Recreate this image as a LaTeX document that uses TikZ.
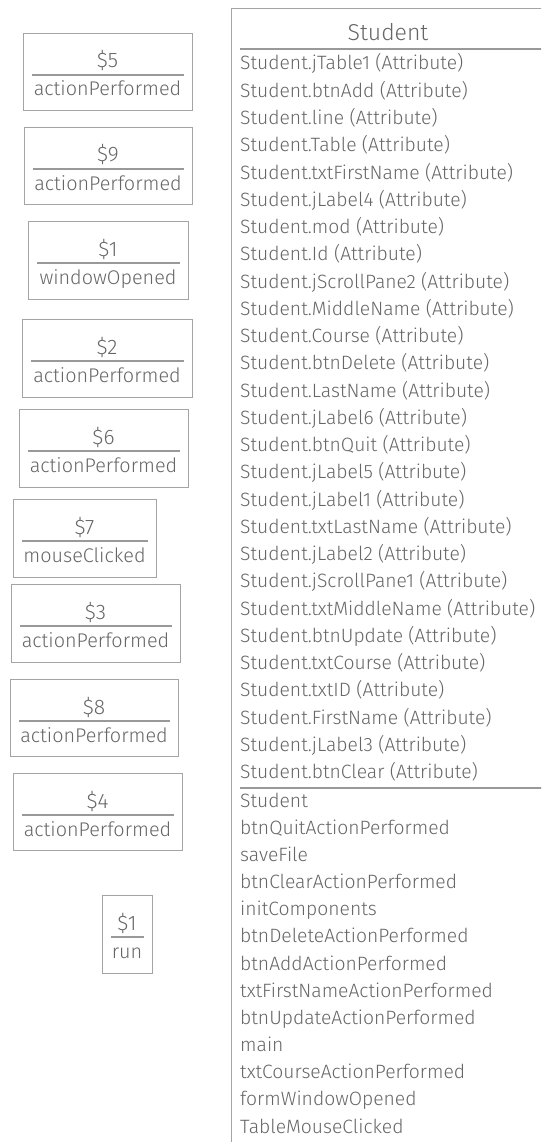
\documentclass[tikz,border=0pt]{standalone}
\usepackage{fontspec}
\setmainfont{Fira Sans Light}
\definecolor{ink}{HTML}{666666}
\definecolor{edge}{HTML}{A4A4A4}
\definecolor{sep}{HTML}{999999}
% one anonymous-class box: name, left, top, right, bottom, title, operation
\newcommand\opbox[7]{%
  \node[frame, minimum width={#4-#2}, minimum height={#5-#3}, anchor=north west] (#1) at (#2,#3) {};
  \coordinate (#1-a) at (#2+9,#3+42);
  \coordinate (#1-b) at (#4-8,#3+42);
  \draw[rule] (#1-a) -- (#1-b);
  \node[boxtitle] (#1-t) at ({(#2+#4)/2},#3+35) {#6};
  \node[boxtext] (#1-m) at ({(#2+#4)/2},#3+63) {#7};
}
\begin{document}
\begin{tikzpicture}[x=1pt,y=-1pt,
  frame/.style={draw=edge,line width=1.4pt,inner sep=0pt},
  rule/.style={draw=sep,line width=1.2pt},
  boxtitle/.style={text=ink,font=\fontsize{21}{21}\selectfont,inner sep=0pt,anchor=base},
  boxtext/.style={text=ink,font=\fontsize{19.8}{20}\selectfont,inner sep=0pt,anchor=base},
  member/.style={text=ink,font=\fontsize{19.3}{20}\selectfont,inner sep=0pt,anchor=base west},
  classtitle/.style={text=ink,font=\fontsize{23}{23}\selectfont,inner sep=0pt,anchor=base}]
\clip (0,0) rectangle (541,1142);
\fill[white] (0,0) rectangle (541,1142);

% anonymous inner classes
\opbox{c5}{23}{33}{192}{110}{\$5}{actionPerformed}
\opbox{c9}{24}{127}{192}{204}{\$9}{actionPerformed}
\opbox{c1}{28}{221}{188}{299}{\$1}{windowOpened}
\opbox{c2}{22}{319}{192}{397}{\$2}{actionPerformed}
\opbox{c6}{19}{409}{188}{487}{\$6}{actionPerformed}
\opbox{c7}{13}{499}{156}{577}{\$7}{mouseClicked}
\opbox{c3}{11}{584}{180}{662}{\$3}{actionPerformed}
\opbox{c8}{10}{679}{178}{756}{\$8}{actionPerformed}
\opbox{c4}{13}{773}{182}{850}{\$4}{actionPerformed}
\opbox{r1}{102}{895}{152}{973}{\$1}{run}

% main class box (runs past the right and bottom edges)
\node[frame, minimum width=330, minimum height=1180, anchor=north west] (student) at (231,8) {};
\node[classtitle] (student-t) at (388,41) {Student};
\coordinate (hs-a) at (240,49);
\coordinate (hs-b) at (560,49);
\draw[rule] (hs-a) -- (hs-b);
\coordinate (ms-a) at (240,788);
\coordinate (ms-b) at (560,788);
\draw[rule] (ms-a) -- (ms-b);

\foreach \t [count=\i from 0] in {%
  Student.jTable1 (Attribute),Student.btnAdd (Attribute),Student.line (Attribute),
  Student.Table (Attribute),Student.txtFirstName (Attribute),Student.jLabel4 (Attribute),
  Student.mod (Attribute),Student.Id (Attribute),Student.jScrollPane2 (Attribute),
  Student.MiddleName (Attribute),Student.Course (Attribute),Student.btnDelete (Attribute),
  Student.LastName (Attribute),Student.jLabel6 (Attribute),Student.btnQuit (Attribute),
  Student.jLabel5 (Attribute),Student.jLabel1 (Attribute),Student.txtLastName (Attribute),
  Student.jLabel2 (Attribute),Student.jScrollPane1 (Attribute),Student.txtMiddleName (Attribute),
  Student.btnUpdate (Attribute),Student.txtCourse (Attribute),Student.txtID (Attribute),
  Student.FirstName (Attribute),Student.jLabel3 (Attribute),Student.btnClear (Attribute)}
  \node[member] (attr-\i) at (240,{70+27.25*\i}) {\t};

\foreach \t [count=\i from 0] in {%
  Student,btnQuitActionPerformed,saveFile,btnClearActionPerformed,initComponents,
  btnDeleteActionPerformed,btnAddActionPerformed,txtFirstNameActionPerformed,
  btnUpdateActionPerformed,main,txtCourseActionPerformed,formWindowOpened,TableMouseClicked}
  \node[member] (op-\i) at (240,{807+27.17*\i}) {\t};
\end{tikzpicture}
\end{document}
